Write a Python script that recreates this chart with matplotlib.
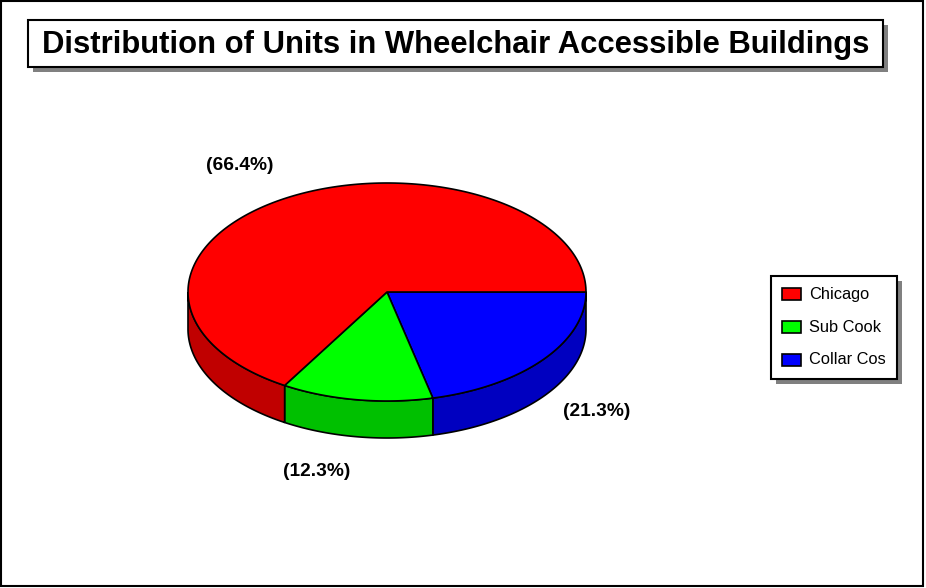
import numpy as np
import matplotlib.pyplot as plt
from matplotlib.patches import Polygon, Rectangle

# Данные диаграммы
labels = ['Chicago', 'Sub Cook', 'Collar Cos']
values = [66.4, 12.3, 21.3]
top_colors = ['#FF0000', '#00FF00', '#0000FF']
side_colors = ['#C00000', '#00C000', '#0000C0']
title = 'Distribution of Units in Wheelchair Accessible Buildings'


def ellipse_points(cx, cy, rx, ry, t1, t2, n=200):
    # Точки на дуге эллипса (экранные координаты, ось y вниз)
    t = np.linspace(t1, t2, n)
    return np.column_stack([cx + rx * np.cos(t), cy + ry * np.sin(t)])


def draw_pie(ax, cx, cy, rx, ry, depth):
    total = sum(values)
    # Секторы идут по часовой стрелке от 0, начиная с последнего
    order = list(range(len(values)))[::-1]
    start = 0.0
    wedges = []
    for i in order:
        span = 2 * np.pi * values[i] / total
        wedges.append((i, start, start + span))
        start += span
    # Боковые стенки (видна только передняя половина)
    for i, t1, t2 in wedges:
        a, b = max(t1, 0), min(t2, np.pi)
        if a >= b:
            continue
        top = ellipse_points(cx, cy, rx, ry, a, b)
        bottom = top[::-1] + [0, depth]
        ax.add_patch(Polygon(np.vstack([top, bottom]), closed=True,
                             facecolor=side_colors[i], edgecolor='black', lw=1.2))
    # Верхние поверхности
    for i, t1, t2 in wedges:
        arc = ellipse_points(cx, cy, rx, ry, t1, t2)
        pts = np.vstack([[cx, cy], arc])
        ax.add_patch(Polygon(pts, closed=True, facecolor=top_colors[i],
                             edgecolor='black', lw=1.2, joinstyle='round'))


def main():
    fig = plt.figure(figsize=(9.26, 5.88), dpi=100)
    ax = fig.add_axes([0, 0, 1, 1])
    ax.set_xlim(0, 926)
    ax.set_ylim(588, 0)
    ax.axis('off')

    # Внешняя рамка
    ax.add_patch(Rectangle((1, 1), 922, 585, fill=False, edgecolor='black', lw=1.5))

    # Заголовок в рамке с тенью
    ax.add_patch(Rectangle((33, 25), 855, 47, facecolor='#808080', edgecolor='none'))
    ax.add_patch(Rectangle((28, 20), 855, 47, facecolor='white', edgecolor='black', lw=1.5))
    ax.text(456, 45, title, fontsize=22.3, fontweight='bold', family='Liberation Sans',
            ha='center', va='center')

    draw_pie(ax, 387, 292, 199, 109, 37)

    # Подписи процентов
    label_pos = {'Chicago': (240, 166), 'Sub Cook': (317, 471), 'Collar Cos': (597, 411)}
    for lab, val in zip(labels, values):
        x, y = label_pos[lab]
        ax.text(x, y, f'({val}%)', fontsize=13.8, fontweight='bold',
                family='Liberation Sans', ha='center', va='center')

    # Легенда
    ax.add_patch(Rectangle((776, 281), 126, 103, facecolor='#808080', edgecolor='none'))
    ax.add_patch(Rectangle((771, 276), 126, 103, facecolor='white', edgecolor='black', lw=1.5))
    for k, lab in enumerate(labels):
        y = 294 + 33 * k
        ax.add_patch(Rectangle((782, y - 6), 19, 12, facecolor=top_colors[k],
                               edgecolor='black', lw=1.2))
        ax.text(809, y, lab, fontsize=11.8, family='Liberation Sans', ha='left', va='center')

    fig.savefig('out.png', dpi=100)


if __name__ == '__main__':
    main()
